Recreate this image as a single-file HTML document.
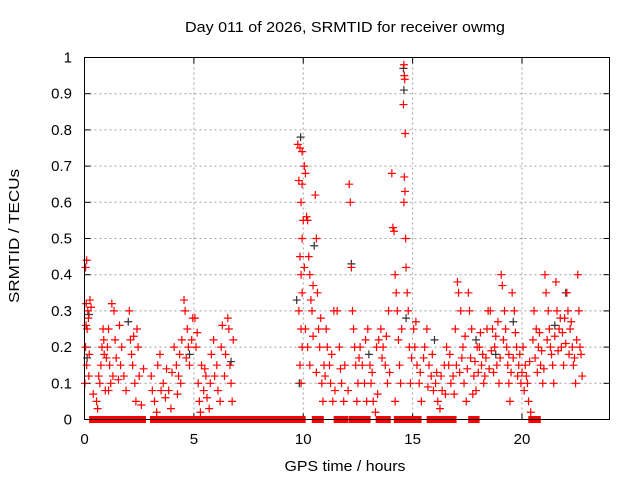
<!DOCTYPE html>
<html><head><meta charset="utf-8"><style>
html,body{margin:0;padding:0;background:#fff;}
svg{display:block;font-family:"Liberation Sans",sans-serif;}
</style></head><body>
<svg id="chart" width="640" height="480" viewBox="0 0 640 480" xmlns="http://www.w3.org/2000/svg">
<text x="345" y="32" font-size="15" text-anchor="middle" textLength="320" lengthAdjust="spacingAndGlyphs" fill="#000">Day 011 of 2026, SRMTID for receiver owmg</text>
<text transform="translate(19,236) rotate(-90)" font-size="15" text-anchor="middle" textLength="134" lengthAdjust="spacingAndGlyphs" fill="#000">SRMTID / TECUs</text>
<text x="345" y="471" font-size="15" text-anchor="middle" textLength="121" lengthAdjust="spacingAndGlyphs" fill="#000">GPS time / hours</text>
<g id="grid"></g>
<g id="ticks"></g>
<g id="zeros"></g>
<g id="blackpts"></g>
<g id="redpts"></g>
<rect x="84.5" y="57.5" width="525" height="362" fill="none" stroke="#000" stroke-width="1"/>
</svg>
<script>
const xTicks=[0,5,10,15,20];
const yTicks=[0,0.1,0.2,0.3,0.4,0.5,0.6,0.7,0.8,0.9,1];
const yTickLabels=["0","0.1","0.2","0.3","0.4","0.5","0.6","0.7","0.8","0.9","1"];
const zeroRanges=[[0.37,0.82],[0.96,1.19],[1.5,1.96],[2.2,2.3],[2.47,2.65],[3.15,3.56],[3.8,4.16],[4.43,4.57],[4.84,5.16],[5.39,5.66],[5.84,6.12],[6.35,6.53],[6.8,9.95],[10.55,10.78],[11.55,11.9],[12.24,12.6],[12.74,12.92],[13.47,13.84],[14.3,14.47],[14.75,15.25],[15.8,16.4],[16.6,16.85],[17.7,17.9],[20.45,20.7]];
const redPts=[
[0.05,0.42],[0.1,0.44],[0.08,0.32],[0.15,0.3],[0.12,0.25],[0.05,0.2],[0.1,0.15],[0.2,0.12],[0.02,0.1],[0.25,0.33],[0.18,0.28],[0.22,0.18],[0.3,0.31],[0.07,0.26],
[0.55,0.05],[0.6,0.03],[0.7,0.1],[0.75,0.15],[0.8,0.2],[0.85,0.25],[0.9,0.18],[0.65,0.12],[0.95,0.08],[0.88,0.22],
[1.05,0.2],[1.1,0.25],[1.15,0.15],[1.2,0.1],[1.25,0.32],[1.35,0.3],[1.4,0.22],[1.45,0.17],[1.3,0.12],[1.1,0.08],
[1.6,0.26],[1.7,0.2],[1.8,0.12],[1.9,0.08],[1.65,0.15],
[2.05,0.3],[2.1,0.22],[2.15,0.18],[2.2,0.15],[2.3,0.1],[2.35,0.05],[2.4,0.25],[2.45,0.2],[2.5,0.12],[2.25,0.23],
[3.05,0.12],[3.1,0.08],[3.2,0.05],[3.3,0.02],[3.35,0.15],[3.45,0.18],
[3.6,0.1],[3.7,0.06],[3.75,0.14],[3.85,0.08],[3.95,0.03],
[4.1,0.2],[4.2,0.15],[4.3,0.12],[4.35,0.18],[4.4,0.1],[4.45,0.22],
[4.55,0.33],[4.6,0.3],[4.7,0.25],[4.75,0.2],[4.8,0.15],[4.9,0.22],[4.95,0.28],
[5.05,0.28],[5.1,0.2],[5.2,0.1],[5.25,0.05],[5.3,0.02],[5.35,0.15],[5.45,0.08],
[5.55,0.12],[5.6,0.06],[5.7,0.03],[5.75,0.1],[5.8,0.18],[5.9,0.22],
[6.05,0.15],[6.1,0.08],[6.2,0.05],[6.25,0.2],[6.3,0.26],[6.4,0.12],
[6.55,0.28],[6.6,0.25],[6.65,0.15],[6.7,0.1],[6.75,0.05],
[9.75,0.76],[9.85,0.75],[9.95,0.74],[9.8,0.66],[9.9,0.6],[9.95,0.5],[9.85,0.45],[9.9,0.4],[9.95,0.35],[9.8,0.3],[9.9,0.25],[9.95,0.2],[9.85,0.15],[9.9,0.1],[9.95,0.65],[10.0,0.55],
[10.05,0.7],[10.1,0.68],[10.15,0.56],[10.2,0.55],[10.25,0.45],[10.3,0.4],[10.35,0.33],[10.4,0.3],[10.1,0.25],[10.2,0.2],[10.3,0.15],[10.05,0.42],[10.45,0.37],
[10.55,0.62],[10.6,0.5],[10.65,0.35],[10.7,0.25],[10.75,0.2],[10.85,0.1],[10.9,0.05],[10.95,0.15],
[11.05,0.25],[11.1,0.2],[11.2,0.15],[11.25,0.1],[11.35,0.05],[11.4,0.3],
[11.55,0.3],[11.65,0.2],[11.75,0.1],[11.85,0.05],[11.9,0.15],
[12.1,0.65],[12.15,0.6],[12.2,0.42],[12.25,0.3],[12.3,0.25],[12.35,0.2],[12.4,0.15],[12.45,0.05],[12.5,0.1],
[12.6,0.2],[12.7,0.15],[12.8,0.1],[12.9,0.05],[12.95,0.25],
[13.05,0.15],[13.1,0.1],[13.2,0.05],[13.3,0.02],[13.35,0.2],[13.45,0.22],
[13.55,0.25],[13.65,0.2],[13.75,0.15],[13.85,0.1],[13.9,0.3],
[14.05,0.68],[14.1,0.53],[14.15,0.52],[14.2,0.4],[14.25,0.35],[14.3,0.3],[14.35,0.22],[14.4,0.15],[14.45,0.1],[14.2,0.05],
[14.6,0.98],[14.62,0.95],[14.64,0.94],[14.58,0.87],[14.66,0.79],[14.62,0.67],[14.65,0.63],[14.6,0.6],[14.68,0.5],[14.7,0.42],[14.75,0.35],[14.8,0.3],[14.85,0.2],[14.9,0.1],
[15.05,0.25],[15.1,0.2],[15.2,0.15],[15.3,0.1],[15.4,0.05],
[15.55,0.2],[15.65,0.25],[15.75,0.15],[15.85,0.12],[15.95,0.08],
[16.05,0.1],[16.15,0.05],[16.25,0.03],[16.35,0.08],[16.45,0.15],
[16.55,0.2],[16.65,0.15],[16.75,0.1],[16.85,0.12],[16.95,0.25],
[17.05,0.38],[17.1,0.35],[17.2,0.3],[17.3,0.2],[17.35,0.1],[17.45,0.05],
[17.55,0.35],[17.6,0.3],[17.7,0.25],[17.8,0.12],[17.9,0.08],[17.95,0.2],
[18.05,0.2],[18.15,0.15],[18.25,0.1],[18.3,0.12],[18.4,0.25],[18.45,0.3],
[18.55,0.3],[18.65,0.25],[18.75,0.2],[18.85,0.15],[18.95,0.1],
[19.05,0.4],[19.1,0.37],[19.2,0.3],[19.25,0.25],[19.3,0.2],[19.35,0.15],[19.4,0.1],[19.45,0.05],
[19.55,0.35],[19.65,0.3],[19.75,0.2],[19.85,0.15],[19.95,0.1],
[20.05,0.2],[20.15,0.15],[20.25,0.1],[20.3,0.05],[20.4,0.02],[20.2,0.12],
[20.55,0.3],[20.65,0.25],[20.75,0.2],[20.85,0.15],[20.95,0.1],
[21.05,0.4],[21.1,0.35],[21.2,0.3],[21.25,0.25],[21.3,0.2],[21.4,0.15],[21.45,0.1],
[21.55,0.38],[21.6,0.3],[21.7,0.25],[21.8,0.2],[21.9,0.15],[21.95,0.28],
[22.05,0.35],[22.1,0.3],[22.2,0.25],[22.3,0.2],[22.35,0.15],[22.45,0.1],
[22.55,0.4],[22.6,0.3],[22.65,0.2],[22.75,0.12],
[0.4,0.07],[1.0,0.17],[1.55,0.11],[2.6,0.04],[2.7,0.14],[3.5,0.08],[4.0,0.13],[4.25,0.07],[4.65,0.17],[5.15,0.24],[5.5,0.14],[5.95,0.12],[6.45,0.18],[6.8,0.22],
[10.45,0.23],[10.6,0.13],[10.8,0.28],[11.0,0.12],[11.3,0.18],[11.45,0.08],[11.7,0.14],[12.05,0.08],[12.55,0.17],[12.85,0.22],[13.15,0.13],[13.4,0.07],[13.6,0.17],[13.8,0.23],[13.95,0.13],
[14.5,0.25],[14.95,0.17],[15.15,0.27],[15.35,0.13],[15.5,0.17],[15.7,0.09],[15.9,0.18],[16.1,0.13],[16.3,0.12],[16.5,0.07],[16.7,0.18],[16.9,0.07],[17.0,0.15],[17.15,0.13],[17.25,0.17],[17.4,0.23],[17.5,0.14],[17.65,0.17],[17.75,0.07],[17.85,0.16],
[18.0,0.13],[18.1,0.24],[18.2,0.18],[18.35,0.17],[18.5,0.14],[18.6,0.19],[18.7,0.13],[18.8,0.23],[18.9,0.27],[19.0,0.17],[19.15,0.22],[19.4,0.18],[19.5,0.13],[19.6,0.17],[19.7,0.24],[19.8,0.12],[19.9,0.18],[20.0,0.13],[20.1,0.08],[20.35,0.16],
[20.5,0.22],[20.6,0.17],[20.7,0.13],[20.8,0.24],[20.9,0.19],[21.0,0.14],[21.15,0.22],[21.35,0.18],[21.5,0.23],[21.65,0.19],[21.75,0.28],[21.85,0.24],[22.0,0.21],[22.15,0.18],[22.25,0.27],[22.4,0.17],[22.5,0.22],[22.7,0.18]
];
const blackPts=[[0.12,0.17],[0.2,0.29],[9.88,0.78],[9.82,0.1],[9.7,0.33],[12.2,0.43],[14.6,0.91],[14.58,0.97],[14.7,0.28],[17.9,0.22],[19.6,0.27],[22.0,0.35],[21.5,0.26],[18.8,0.18],[16.0,0.22],[10.5,0.48],[6.7,0.16],[2.0,0.27],[4.8,0.18],[13.0,0.18]];

const X0=84.5,X1=609.5,Y0=419.5,Y1=57.5,NS="http://www.w3.org/2000/svg";
function xs(t){return X0+(t/24)*(X1-X0);}
function ys(v){return Y0-v*(Y0-Y1);}
function mk(tag,attrs,parent){const e=document.createElementNS(NS,tag);for(const k in attrs)e.setAttribute(k,attrs[k]);parent.appendChild(e);return e;}
const grid=document.getElementById('grid'),ticks=document.getElementById('ticks');
xTicks.forEach(t=>{
  const x=xs(t);
  if(t>0){const g=mk('line',{x1:x,x2:x,y1:Y1,y2:Y0,stroke:'#a0a0a0','stroke-dasharray':'2,3'},grid);
  
  }
  mk('line',{x1:x,x2:x,y1:Y0,y2:Y0-6,stroke:'#000'},ticks);
  mk('line',{x1:x,x2:x,y1:Y1,y2:Y1+6,stroke:'#000'},ticks);
  const l=mk('text',{x:x,y:444,'font-size':15,'text-anchor':'middle',fill:'#000'},ticks);
  l.textContent=String(t);
  
  
});
yTicks.forEach((v,i)=>{
  const y=ys(v);
  if(v>0&&v<1){const g=mk('line',{x1:X0,x2:X1,y1:y,y2:y,stroke:'#a0a0a0','stroke-dasharray':'2,3'},grid);
  
  }
  mk('line',{x1:X0,x2:X0+6,y1:y,y2:y,stroke:'#000'},ticks);
  mk('line',{x1:X1,x2:X1-6,y1:y,y2:y,stroke:'#000'},ticks);
  const l=mk('text',{x:72,y:y+5,'font-size':15,'text-anchor':'end',fill:'#000'},ticks);
  l.textContent=yTickLabels[i];
  
  
});
const zg=document.getElementById('zeros');
zeroRanges.forEach(r=>{
  const a=xs(r[0])-3.5,b=xs(r[1])+3.5;
  const e=mk('rect',{x:a,y:Y0-3.5,width:b-a,height:7,fill:'#ff0000'},zg);
  
  
});
function cross(p,parent,col){
  const x=xs(p[0]),y=ys(p[1]);
  return mk('path',{d:`M${x-4} ${y}H${x+4}M${x} ${y-4}V${y+4}`,stroke:col,'stroke-width':1.2,fill:'none'},parent);
}
const bg=document.getElementById('blackpts');
blackPts.forEach(p=>{const e=cross(p,bg,'#333');
  
  });
const rg=document.getElementById('redpts');
redPts.forEach(p=>{const e=cross(p,rg,'#ff0000');
  
  });
</script>
</body></html>
